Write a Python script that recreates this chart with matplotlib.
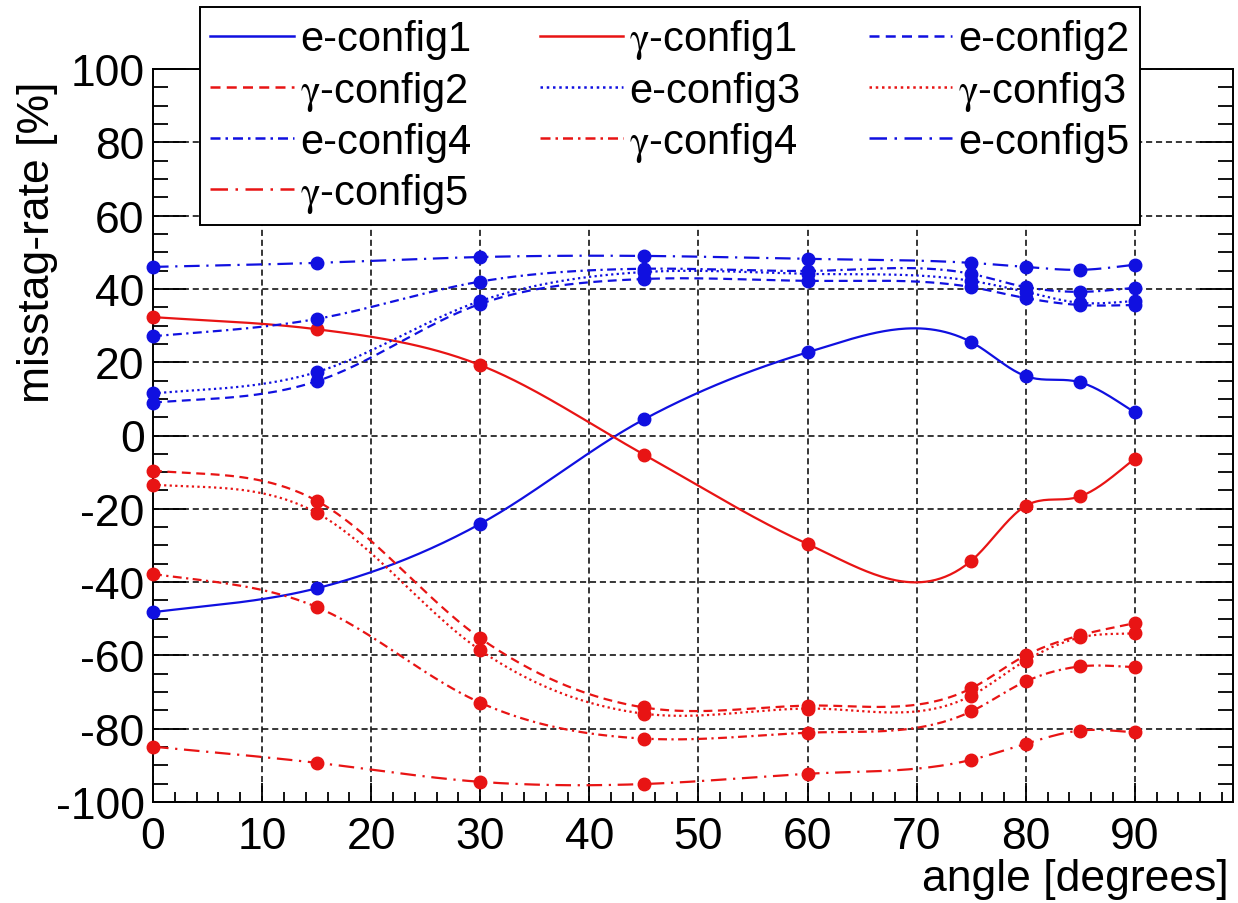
import numpy as np
import matplotlib
matplotlib.use('Agg')
import matplotlib.pyplot as plt
from matplotlib.lines import Line2D
from matplotlib.ticker import MultipleLocator

plt.rcParams['font.family'] = ['Liberation Sans', 'DejaVu Sans']
plt.rcParams['mathtext.fontset'] = 'stix'
plt.rcParams['axes.unicode_minus'] = False

# misstag rate [%] vs incidence angle for electrons and photons
angle = [0, 15, 30, 45, 60, 75, 80, 85, 90]

e_config1 = [-48.2, -41.7, -24.1, 4.4, 22.7, 25.5, 16.2, 14.5, 6.3]
e_config2 = [9.0, 14.8, 35.9, 42.7, 42.2, 40.5, 37.5, 35.6, 35.6]
e_config3 = [11.5, 17.3, 36.7, 44.6, 44.1, 42.2, 39.2, 36.2, 36.7]
e_config4 = [27.1, 31.8, 42.0, 45.5, 44.9, 44.1, 40.5, 39.2, 40.3]
e_config5 = [46.0, 47.1, 48.7, 49.0, 48.2, 47.1, 46.0, 45.2, 46.6]

g_config1 = [32.3, 29.0, 19.2, -5.2, -29.6, -34.2, -19.2, -16.6, -6.3]
g_config2 = [-9.6, -17.8, -55.3, -74.2, -73.7, -69.0, -60.0, -54.5, -51.2]
g_config3 = [-13.4, -21.1, -58.6, -75.9, -74.5, -71.0, -61.4, -55.1, -54.0]
g_config4 = [-37.8, -46.8, -72.9, -82.7, -81.1, -75.3, -67.1, -63.0, -63.2]
g_config5 = [-84.9, -89.3, -94.5, -95.1, -92.3, -88.5, -84.1, -80.5, -81.0]

BLUE = '#1010e0'
RED = '#e81414'

styles = {
    1: '-',
    2: (0, (4, 2.5)),
    3: (0, (1, 1.5)),
    4: (0, (4, 2, 1, 2)),
    5: (0, (7, 3, 1, 3)),
}


def natural_spline(x, y, xs):
    n = len(x)
    h = np.diff(x)
    A = np.zeros((n, n))
    r = np.zeros(n)
    A[0, 0] = A[-1, -1] = 1.0
    for i in range(1, n - 1):
        A[i, i - 1] = h[i - 1]
        A[i, i] = 2 * (h[i - 1] + h[i])
        A[i, i + 1] = h[i]
        r[i] = 6 * ((y[i + 1] - y[i]) / h[i] - (y[i] - y[i - 1]) / h[i - 1])
    M = np.linalg.solve(A, r)
    k = np.clip(np.searchsorted(x, xs, side='right') - 1, 0, n - 2)
    hk = h[k]
    a = x[k + 1] - xs
    b = xs - x[k]
    return (M[k] * a ** 3 + M[k + 1] * b ** 3) / (6 * hk) \
        + (y[k] / hk - M[k] * hk / 6) * a + (y[k + 1] / hk - M[k + 1] * hk / 6) * b


def hermite(x, y, xs):
    # finite-difference slopes, a softer curve than the natural spline
    n = len(x)
    m = np.gradient(y, x)
    k = np.clip(np.searchsorted(x, xs, side='right') - 1, 0, n - 2)
    h = x[k + 1] - x[k]
    t = (xs - x[k]) / h
    h00 = 2 * t ** 3 - 3 * t ** 2 + 1
    h10 = t ** 3 - 2 * t ** 2 + t
    h01 = -2 * t ** 3 + 3 * t ** 2
    h11 = t ** 3 - t ** 2
    return h00 * y[k] + h10 * h * m[k] + h01 * y[k + 1] + h11 * h * m[k + 1]


def smooth(x, y, num=400):
    x = np.asarray(x, float)
    y = np.asarray(y, float)
    xs = np.linspace(x[0], x[-1], num)
    return xs, 0.5 * (natural_spline(x, y, xs) + hermite(x, y, xs))


fig = plt.figure(figsize=(12.38, 9.04), dpi=100)
ax = fig.add_axes([153 / 1238, 1 - 803 / 904, 1080 / 1238, 733 / 904])

series = [
    ('e-config1', e_config1, BLUE, 1),
    ('$\\mathrm{\\gamma}$-config1', g_config1, RED, 1),
    ('e-config2', e_config2, BLUE, 2),
    ('$\\mathrm{\\gamma}$-config2', g_config2, RED, 2),
    ('e-config3', e_config3, BLUE, 3),
    ('$\\mathrm{\\gamma}$-config3', g_config3, RED, 3),
    ('e-config4', e_config4, BLUE, 4),
    ('$\\mathrm{\\gamma}$-config4', g_config4, RED, 4),
    ('e-config5', e_config5, BLUE, 5),
    ('$\\mathrm{\\gamma}$-config5', g_config5, RED, 5),
]

handles = {}
for label, vals, col, st in series:
    xs, ys = smooth(angle, vals)
    ax.plot(xs, ys, color=col, lw=1.6, ls=styles[st], zorder=3)
    ax.plot(angle, vals, 'o', color=col, ms=9, mec=col, zorder=4, clip_on=False)
    handles[label] = Line2D([], [], color=col, lw=1.8, ls=styles[st])

ax.set_xlim(0, 99)
ax.set_ylim(-100, 100)
ax.xaxis.set_major_locator(MultipleLocator(10))
ax.xaxis.set_minor_locator(MultipleLocator(2))
ax.yaxis.set_major_locator(MultipleLocator(20))
ax.yaxis.set_minor_locator(MultipleLocator(5))
ax.set_xticks(range(0, 91, 10))
ax.grid(True, which='major', color='black', lw=1.1, ls=(0, (4, 2.5)))
ax.set_axisbelow(True)

ax.tick_params(axis='y', which='major', direction='in', length=24, width=1.3,
               labelsize=32, pad=6, right=True)
ax.tick_params(axis='y', which='minor', direction='in', length=11, width=1.3, right=True)
ax.tick_params(axis='x', which='major', direction='in', length=14, width=1.3,
               labelsize=32, pad=10)
ax.tick_params(axis='x', which='minor', direction='in', length=7, width=1.3)
for s in ax.spines.values():
    s.set_linewidth(1.4)

fig.text(38 / 1238, 1 - 82 / 904, 'misstag-rate [%]', rotation=90,
         ha='center', va='top', fontsize=32)
fig.text(1229 / 1238, 1 - 880 / 904, 'angle [degrees]', ha='right',
         va='center', fontsize=32)

# legend is filled column by column, so reorder for row-wise reading
g = '$\\mathrm{\\gamma}$'
order = ['e-config1', g + '-config2', 'e-config4', g + '-config5',
         g + '-config1', 'e-config3', g + '-config4',
         'e-config2', g + '-config3', 'e-config5']
leg = fig.legend([handles[k] for k in order], order, ncol=3, mode='expand',
                 loc='upper left',
                 bbox_to_anchor=(200 / 1238, 1 - 8 / 904, 940 / 1238, 0.0),
                 fontsize=30, frameon=True, fancybox=False, framealpha=1,
                 edgecolor='black', handlelength=2.0, handletextpad=0.15,
                 labelspacing=0.22, borderpad=0.25, borderaxespad=0.0,
                 columnspacing=1.0)
leg.get_frame().set_linewidth(1.4)

fig.savefig('out.png', dpi=100)
